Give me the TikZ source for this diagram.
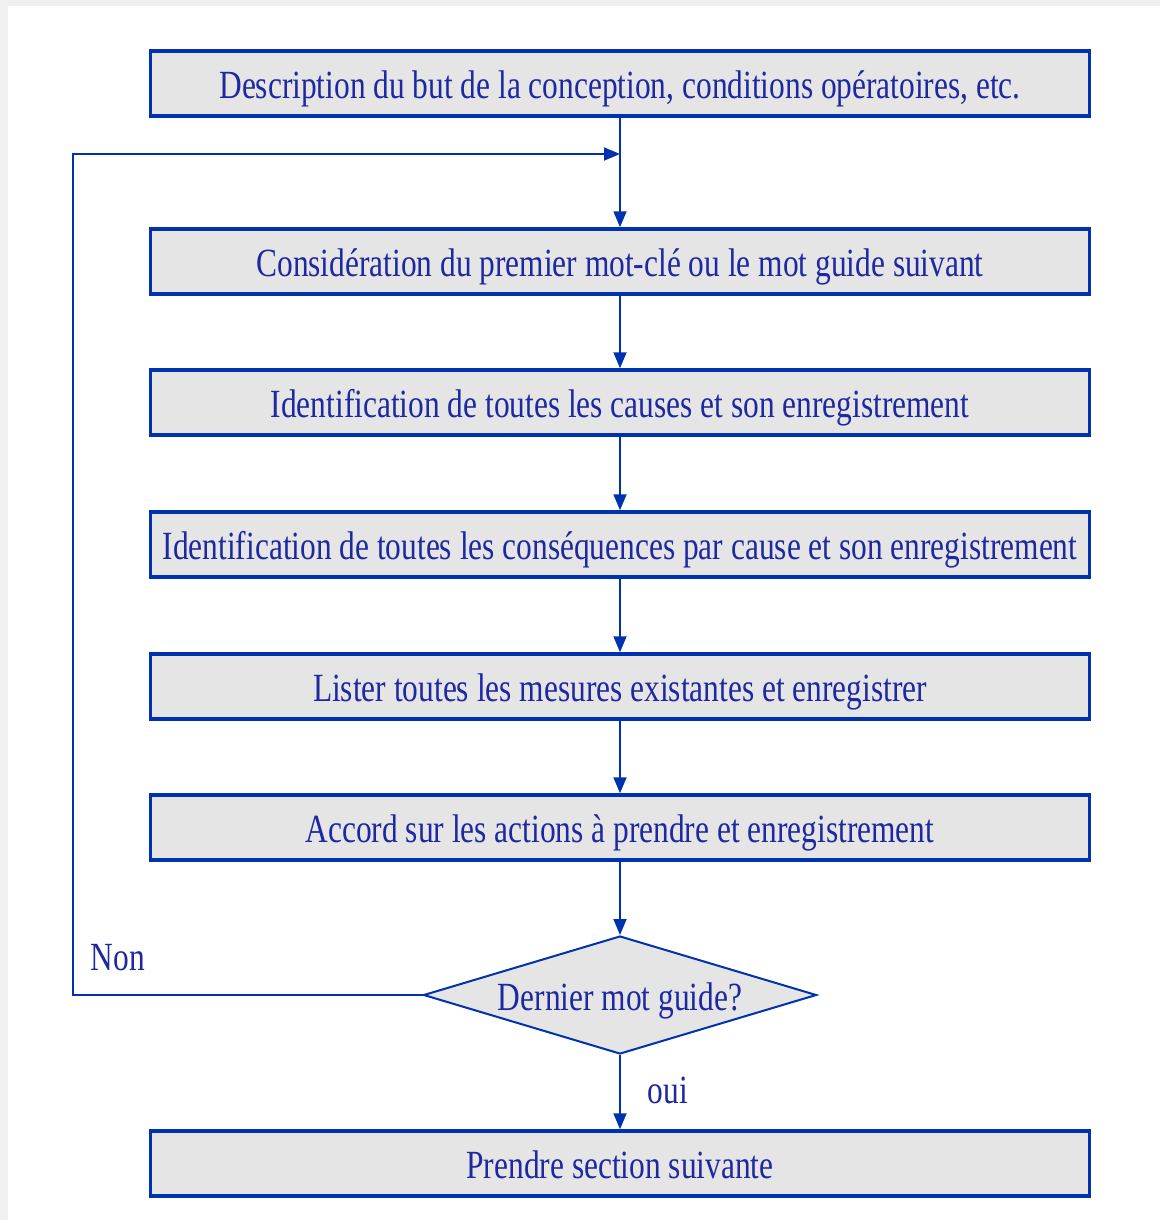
\documentclass[tikz,border=0pt]{standalone}
\usepackage{fontspec}
\setmainfont{Liberation Serif}[FakeStretch=0.785]
\usetikzlibrary{shapes.geometric,arrows.meta}
\definecolor{boxblue}{RGB}{0,50,175}
\definecolor{txtblue}{RGB}{30,40,160}
\definecolor{boxfill}{RGB}{229,229,229}
\tikzset{
  stepbox/.style={draw=boxblue,line width=3.5pt,fill=boxfill,minimum width=939pt,minimum height=65pt,inner sep=0pt,text height=36pt,text depth=6pt,text=txtblue,font=\fontsize{40}{44}\selectfont},
  decbox/.style={shape=diamond,draw=boxblue,line width=2pt,fill=boxfill,minimum width=393pt,minimum height=118pt,shape aspect=3.33,inner sep=0pt,text height=36pt,text depth=6pt,text=txtblue,font=\fontsize{40}{44}\selectfont},
  flow/.style={draw=boxblue,line width=1.8pt,-{Triangle[width=13pt,length=16pt]}},
  lbl/.style={text=txtblue,font=\fontsize{40}{44}\selectfont,inner sep=0pt}
}
\begin{document}
\begin{tikzpicture}[x=1pt,y=-1pt]
\useasboundingbox (0,0) rectangle (1160,1220);
\fill[gray!12] (0,0) rectangle (1160,1220);
\fill[white] (8,6) rectangle (1160,1220);
\node[stepbox] (b1) at (620,83.5) {Description du but de la conception, conditions opératoires, etc.};
\node[stepbox] (b2) at (620,261.5) {Considération du premier mot-clé ou le mot guide suivant};
\node[stepbox] (b3) at (620,402.5) {Identification de toutes les causes et son enregistrement};
\node[stepbox] (b4) at (620,544.5) {Identification de toutes les conséquences par cause et son enregistrement};
\node[stepbox] (b5) at (620,686.5) {Lister toutes les mesures existantes et enregistrer};
\node[stepbox] (b6) at (620,827.5) {Accord sur les actions à prendre et enregistrement};
\node[decbox] (d) at (620,995) {Dernier mot guide?};
\node[stepbox] (b7) at (620,1163.5) {Prendre section suivante};
\coordinate (j) at (620,154);
\coordinate (c1) at (73,995);
\coordinate (c2) at (73,154);
\draw[flow] (b1) -- (b2);
\draw[flow] (b2) -- (b3);
\draw[flow] (b3) -- (b4);
\draw[flow] (b4) -- (b5);
\draw[flow] (b5) -- (b6);
\draw[flow] (b6) -- (d);
\draw[flow] (d) -- (b7);
\draw[flow] (d.west) -- (c1) -- (c2) -- (j);
\node[lbl] (non) at (118,958) {Non};
\node[lbl] (oui) at (668,1090) {oui};
\end{tikzpicture}
\end{document}
